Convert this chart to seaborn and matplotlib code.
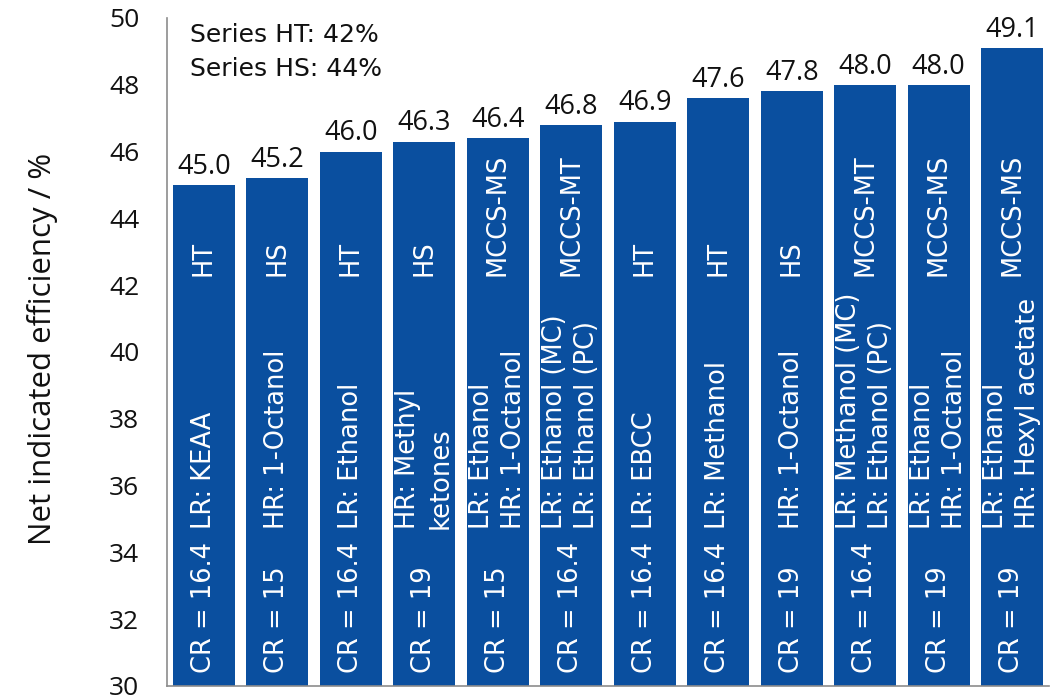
import matplotlib
matplotlib.use("Agg")
import matplotlib.pyplot as plt
import seaborn as sns
import pandas as pd
import numpy as np

# Net indicated efficiency for each combustion configuration
values = [45.0, 45.2, 46.0, 46.3, 46.4, 46.8, 46.9, 47.6, 47.8, 48.0, 48.0, 49.1]
configs = ["HT", "HS", "HT", "HS", "MCCS-MS", "MCCS-MT", "HT", "HT", "HS",
           "MCCS-MT", "MCCS-MS", "MCCS-MS"]
cr_values = ["16.4", "15", "16.4", "19", "15", "16.4", "16.4", "16.4", "19",
             "16.4", "19", "19"]
fuels = [
    "LR: KEAA",
    "HR: 1-Octanol",
    "LR: Ethanol",
    "HR: Methyl\nketones",
    "LR: Ethanol\nHR: 1-Octanol",
    "LR: Ethanol (MC)\nLR: Ethanol (PC)",
    "LR: EBCC",
    "LR: Methanol",
    "HR: 1-Octanol",
    "LR: Methanol (MC)\nLR: Ethanol (PC)",
    "LR: Ethanol\nHR: 1-Octanol",
    "LR: Ethanol\nHR: Hexyl acetate",
]
series_note = ["Series HT: 42%", "Series HS: 44%"]
y_ticks = list(range(30, 51, 2))

df = pd.DataFrame({
    "case": [f"{c} | {f} | CR {r}" for c, f, r in zip(configs, fuels, cr_values)],
    "efficiency": values,
})

sns.set_style("white")
plt.rcParams["font.family"] = ["Open Sans", "DejaVu Sans"]

BAR = "#0a4f9f"
GREY = "#8c8c8c"
INNER_FONT = ["DejaVu Sans"]

fig = plt.figure(figsize=(10.51, 6.96), dpi=100)
ax = fig.add_axes([0.159, 0.0144, 0.839, 0.9598])

sns.barplot(data=df, x="case", y="efficiency", color=BAR, saturation=1,
            width=0.845, ax=ax, edgecolor="none")

ax.set_ylim(30, 50)
ax.set_xlim(-0.5, len(values) - 0.5)
ax.set_yticks(y_ticks)
ax.set_yticklabels([str(t) for t in y_ticks], fontsize=19, color="#111111")
ax.tick_params(axis="y", direction="in", length=5, width=1, color=GREY, pad=20)

# category separators on the x axis, no labels
ax.set_xticks(np.arange(-0.5, len(values), 1.0))
ax.set_xticklabels([])
ax.tick_params(axis="x", direction="out", length=5, width=1, color=GREY)
ax.set_xlabel("")

for side in ("top", "right"):
    ax.spines[side].set_visible(False)
for side in ("left", "bottom"):
    ax.spines[side].set_color(GREY)
    ax.spines[side].set_linewidth(1.2)

ax.set_ylabel("Net indicated efficiency / %", fontsize=22.5, color="#111111")
ax.yaxis.set_label_coords(-0.124, 0.505)

# value labels above bars
for i, v in enumerate(values):
    ax.annotate(f"{v:.1f}", xy=(i, v), xytext=(0, 3), textcoords="offset points",
                ha="center", va="bottom", fontsize=19.5, color="#111111")

# white text inside each bar: CR, fuels, configuration
for i, (cfg, cr, fuel) in enumerate(zip(configs, cr_values, fuels)):
    ax.text(i, 30.39, f"CR = {cr}", rotation=90, ha="center", va="bottom",
            color="white", fontsize=18.5, family=INNER_FONT)
    ax.text(i, 34.70, fuel, rotation=90, ha="center", va="bottom",
            color="white", fontsize=18.5, family=INNER_FONT, linespacing=1.3,
            multialignment="left")
    ax.text(i, 42.28, cfg, rotation=90, ha="center", va="bottom",
            color="white", fontsize=18.5, family=INNER_FONT)

ax.text(0.026, 0.992, "\n".join(series_note), transform=ax.transAxes,
        ha="left", va="top", fontsize=18, color="#111111",
        family=INNER_FONT, linespacing=1.5)

fig.savefig("out.png", dpi=100)
